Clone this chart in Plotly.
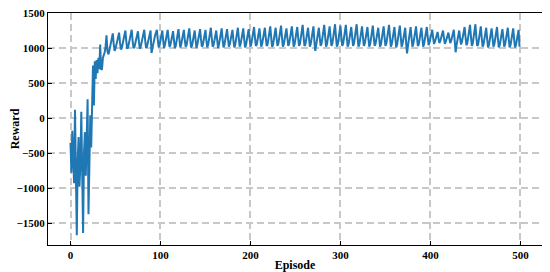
import plotly.graph_objects as go

# reward per episode
reward_warmup = [
    -350, -780, -180, -760, -930, 120, -800, -1670, -600, -270,
    -980, -650, 90, -900, -1640, -500, -200, -820, -400, 270,
    -1370, -800, 40, -420, 120, 750, 180, 810, 560, 830,
    640, 860, 700, 1050, 690,
]
reward_ramp = [700, 860, 900, 940, 1020, 1180]
reward_early = [
    960, 910, 950, 1010, 1080, 1150, 1210,
    1060, 960, 990, 1060, 1130, 1190, 1220,
    1080, 980, 1000, 1070, 1140, 1200, 1250,
    1100, 990, 1010, 1080, 1150, 1210, 1260,
    1110, 1000, 1010, 1080, 1150, 1200, 1240,
    1100, 990, 1020, 1090, 1160, 1220, 1260,
    1110, 1000, 1020, 1090, 1160, 1220, 1250,
    930, 1010, 1060, 1120, 1180, 1230, 1260,
]
reward_late = [
    1120, 1010, 1040, 1110, 1190, 1250,
    1110, 1000, 1050, 1130, 1200, 1260,
    1130, 1020, 1040, 1120, 1190, 1240,
    1110, 1000, 1030, 1110, 1200, 1270,
    1130, 1010, 1050, 1130, 1210, 1260,
    1120, 1020, 1040, 1120, 1200, 1280,
    1140, 1010, 1030, 1110, 1190, 1250,
    1120, 1000, 1050, 1130, 1210, 1270,
    1130, 1020, 1040, 1120, 1200, 1260,
    1110, 1010, 1050, 1140, 1220, 1290,
    1140, 1020, 1040, 1110, 1190, 1250,
    1120, 1000, 1050, 1130, 1210, 1280,
    1130, 1010, 1040, 1120, 1200, 1270,
    1140, 1020, 1050, 1130, 1210, 1260,
    1120, 1010, 1040, 1120, 1210, 1290,
    1150, 1020, 1050, 1140, 1220, 1280,
    1130, 1010, 1040, 1120, 1200, 1270,
    1140, 1020, 1060, 1140, 1230, 1300,
    1150, 1030, 1050, 1130, 1210, 1280,
    1140, 1020, 1060, 1150, 1230, 1290,
    1150, 1030, 1050, 1130, 1220, 1310,
    1160, 1020, 1040, 1140, 1230, 1290,
    1150, 1030, 1060, 1150, 1240, 1320,
    1160, 1020, 1050, 1140, 1220, 1280,
    1150, 1030, 1060, 1150, 1240, 1310,
    1160, 1020, 1050, 1140, 1230, 1300,
    1150, 1030, 1060, 1160, 1250, 1330,
    1170, 1030, 1050, 1140, 1230, 1290,
    1150, 1020, 1060, 1150, 1240, 1310,
    1100, 960, 1040, 1130, 1220, 1290,
    1150, 1030, 1060, 1160, 1250, 1330,
    1170, 1020, 1050, 1150, 1240, 1310,
    1160, 1030, 1060, 1160, 1260, 1340,
    1170, 1020, 1050, 1150, 1240, 1320,
    1160, 1030, 1060, 1160, 1250, 1330,
    1170, 1020, 1050, 1150, 1240, 1300,
    1160, 1030, 1060, 1160, 1250, 1340,
    1170, 1020, 1050, 1140, 1230, 1310,
    1160, 1030, 1060, 1150, 1240, 1300,
    1150, 1020, 1050, 1160, 1250, 1320,
    1160, 1030, 1060, 1150, 1230, 1290,
    1150, 1020, 1050, 1140, 1240, 1310,
    1160, 1030, 1060, 1160, 1260, 1330,
    1170, 1020, 1050, 1140, 1230, 1300,
    1150, 1010, 1050, 1150, 1240, 1320,
    1160, 1020, 1060, 1140, 1230, 1290,
    1080, 925, 1030, 1130, 1220, 1300,
    1150, 1020, 1060, 1150, 1240, 1310,
    1160, 1030, 1050, 1140, 1230, 1290,
    1150, 1020, 1060, 1150, 1240, 1300,
    1160, 1040, 1080, 1150, 1210, 1260,
    1150, 1060, 1090, 1140, 1190, 1230,
    1140, 1070, 1100, 1150, 1200, 1250,
    1150, 1060, 1090, 1140, 1180, 1220,
    1140, 1070, 1100, 1160, 1210, 1260,
    1100, 940, 1040, 1130, 1200, 1250,
    1140, 1050, 1090, 1170, 1240, 1300,
    1160, 1040, 1070, 1170, 1260, 1330,
    1170, 1030, 1060, 1160, 1250, 1340,
    1160, 1030, 1050, 1150, 1240, 1310,
    1150, 1020, 1050, 1140, 1230, 1290,
    1140, 1010, 1040, 1130, 1220, 1280,
    1150, 1020, 1050, 1140, 1230, 1300,
    1140, 1010, 1040, 1130, 1220, 1270,
    1150, 1020, 1050, 1140, 1230, 1290,
    1140, 1010, 1040, 1130, 1210, 1280,
    1130, 1010, 1040, 1120, 1200, 1260,
    1020,
]

rewards = reward_warmup + reward_ramp + reward_early + reward_late
episodes = list(range(len(rewards)))

x_ticks = [0, 100, 200, 300, 400, 500]
y_ticks = [-1500, -1000, -500, 0, 500, 1000, 1500]

font = dict(family="Liberation Serif, Times New Roman, serif", size=12, color="black")

fig = go.Figure()
fig.add_trace(go.Scatter(x=episodes, y=rewards, mode="lines",
                         line=dict(color="#1f77b4", width=2)))

axis_style = dict(
    showline=True, linecolor="black", linewidth=1.2, mirror=True,
    ticks="inside", ticklen=4, tickcolor="black",
    showgrid=True, gridcolor="#c8c8c8", gridwidth=1.5, griddash="7px,4px",
    zeroline=False, automargin=False, ticklabeloverflow="allow",
    tickfont=dict(family=font["family"], size=11, color="black", weight="bold"),
)

fig.update_xaxes(range=[-25, 524], tickvals=x_ticks,
                 title=dict(text="<b>Episode</b>", font=font, standoff=2), **axis_style)
fig.update_yaxes(range=[-1810, 1500], tickvals=y_ticks,
                 title=dict(text="<b>Reward</b>", font=font, standoff=4), **axis_style)

# page body has an 8px default margin, so the figure is sized to fit inside it
fig.update_layout(
    width=542, height=264,
    margin=dict(l=40, r=8, t=5, b=27),
    paper_bgcolor="white", plot_bgcolor="white",
    showlegend=False, font=font,
)

fig.write_html("out.html")
